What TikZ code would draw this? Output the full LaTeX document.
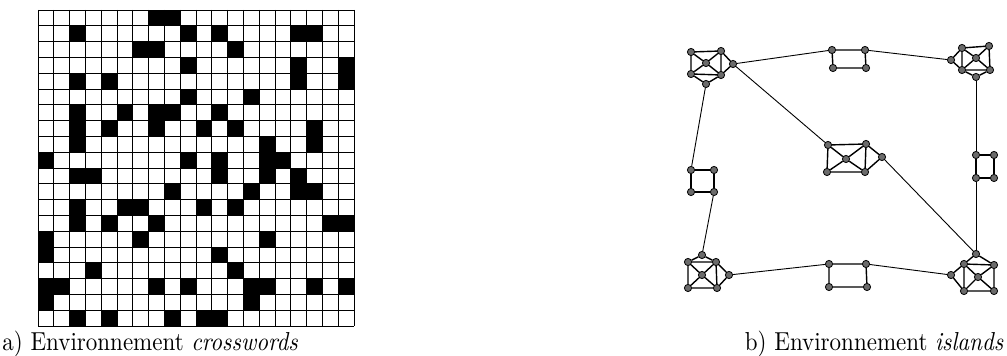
\documentclass[tikz,border=0pt]{standalone}
\usepackage{tikz}
\definecolor{isleg}{gray}{0.42}

\tikzset{
  isle/.style={circle, draw=black, fill=isleg, inner sep=0pt, minimum size=3.6pt, line width=0.4pt},
  link/.style={black, line width=0.7pt},
  bridge/.style={black, line width=0.45pt},
  caption/.style={inner sep=0pt, xscale=1.15, yscale=1.3},
}

\begin{document}
\begin{tikzpicture}[x=0.5pt, y=-0.5pt]
  \useasboundingbox (0,0) rectangle (1007,356);
  \def\gx{38}
  \def\gy{10}
  \def\cs{15.8}

  % crosswords: black cells (row/col)
  \foreach \r/\c in {0/7,0/8,
      1/2,1/9,1/11,1/16,1/17,
      2/6,2/7,2/12,
      3/9,3/16,3/19,
      4/2,4/4,4/16,4/19,
      5/9,5/13,
      6/2,6/5,6/7,6/8,6/11,
      7/2,7/4,7/7,7/10,7/12,7/17,
      8/2,8/14,8/17,
      9/0,9/9,9/11,9/14,9/15,
      10/2,10/3,10/11,10/14,10/16,
      11/8,11/13,11/16,11/17,
      12/2,12/5,12/6,12/10,12/12,
      13/2,13/4,13/7,13/18,13/19,
      14/0,14/6,14/14,
      15/0,15/11,
      16/3,16/12,
      17/0,17/1,17/7,17/9,17/13,17/14,17/17,17/19,
      18/0,18/13,
      19/2,19/4,19/8,19/10,19/11}
    \fill[black] (\gx+\c*\cs, \gy+\r*\cs) rectangle (\gx+\c*\cs+\cs, \gy+\r*\cs+\cs);
  % grid lines
  \foreach \i in {0,...,20} {
    \draw[line width=0.45pt] (\gx+\i*\cs, \gy) -- (\gx+\i*\cs, \gy+20*\cs);
    \draw[line width=0.45pt] (\gx, \gy+\i*\cs) -- (\gx+20*\cs, \gy+\i*\cs);
  }

  % islands: top left
  \node[isle] (nw1) at (691,52) {};
  \node[isle] (nw2) at (721,51) {};
  \node[isle] (nw3) at (691,74) {};
  \node[isle] (nw4) at (721,75) {};
  \node[isle] (nw5) at (706,63) {};
  \node[isle] (nwe) at (733,64) {};
  \node[isle] (nws) at (706,84) {};
  % top middle
  \node[isle] (n1) at (832,50) {};
  \node[isle] (n2) at (865,50) {};
  \node[isle] (n3) at (833,68) {};
  \node[isle] (n4) at (866,68) {};
  % top right
  \node[isle] (ne1) at (962,48) {};
  \node[isle] (ne2) at (989,46) {};
  \node[isle] (ne3) at (962,70) {};
  \node[isle] (ne4) at (990,70) {};
  \node[isle] (ne5) at (976,58) {};
  \node[isle] (new) at (951,60) {};
  \node[isle] (nes) at (976,77) {};
  % centre
  \node[isle] (c1) at (828,145) {};
  \node[isle] (c2) at (866,144) {};
  \node[isle] (c3) at (827,172) {};
  \node[isle] (c4) at (865,172) {};
  \node[isle] (c5) at (846,159) {};
  \node[isle] (ce) at (882,157) {};
  % middle left / right
  \node[isle] (w1) at (691,170) {};
  \node[isle] (w2) at (714,170) {};
  \node[isle] (w3) at (691,192) {};
  \node[isle] (w4) at (714,192) {};
  \node[isle] (e1) at (976,155) {};
  \node[isle] (e2) at (994,155) {};
  \node[isle] (e3) at (976,178) {};
  \node[isle] (e4) at (994,178) {};
  % bottom left
  \node[isle] (sw1) at (688,262) {};
  \node[isle] (sw2) at (716,262) {};
  \node[isle] (sw3) at (688,288) {};
  \node[isle] (sw4) at (717,288) {};
  \node[isle] (sw5) at (702,275) {};
  \node[isle] (swn) at (702,255) {};
  \node[isle] (swe) at (729,275) {};
  % bottom middle
  \node[isle] (s1) at (829,264) {};
  \node[isle] (s2) at (866,264) {};
  \node[isle] (s3) at (829,287) {};
  \node[isle] (s4) at (867,287) {};
  % bottom right
  \node[isle] (se1) at (964,264) {};
  \node[isle] (se2) at (994,265) {};
  \node[isle] (se3) at (964,291) {};
  \node[isle] (se4) at (994,291) {};
  \node[isle] (se5) at (978,277) {};
  \node[isle] (sen) at (976,254) {};
  \node[isle] (sew) at (951,275) {};

  % edges inside the islands
  \foreach \p in {nw,ne,c,sw,se}
    \draw[link] (\p1) -- (\p2) -- (\p4) -- (\p3) -- (\p1)
      (\p1) -- (\p5) -- (\p4) (\p2) -- (\p5) -- (\p3);
  \foreach \p in {n,w,e,s}
    \draw[link] (\p1) -- (\p2) -- (\p4) -- (\p3) -- (\p1);
  \draw[link] (nw2) -- (nwe) -- (nw4) (nw3) -- (nws) -- (nw4);
  \draw[link] (ne1) -- (new) -- (ne3) (ne3) -- (nes) -- (ne4);
  \draw[link] (c2) -- (ce) -- (c4);
  \draw[link] (sw1) -- (swn) -- (sw2) (sw2) -- (swe) -- (sw4);
  \draw[link] (se1) -- (sen) -- (se2) (se1) -- (sew) -- (se3);

  % bridges
  \draw[bridge] (nwe) -- (n1);
  \draw[bridge] (n2) -- (new);
  \draw[bridge] (nwe) -- (c1);
  \draw[bridge] (nws) -- (w1);
  \draw[bridge] (nes) -- (e1);
  \draw[bridge] (w4) -- (swn);
  \draw[bridge] (e3) -- (sen);
  \draw[bridge] (ce) -- (sen);
  \draw[bridge] (swe) -- (s1);
  \draw[bridge] (s2) -- (sew);

  % captions
  \node[caption, anchor=base west] (capa) at (2,351) {a) Environnement \textit{crosswords}};
  \node[caption, anchor=base east] (capb) at (1004,351) {b) Environnement \textit{islands}};
\end{tikzpicture}
\end{document}
